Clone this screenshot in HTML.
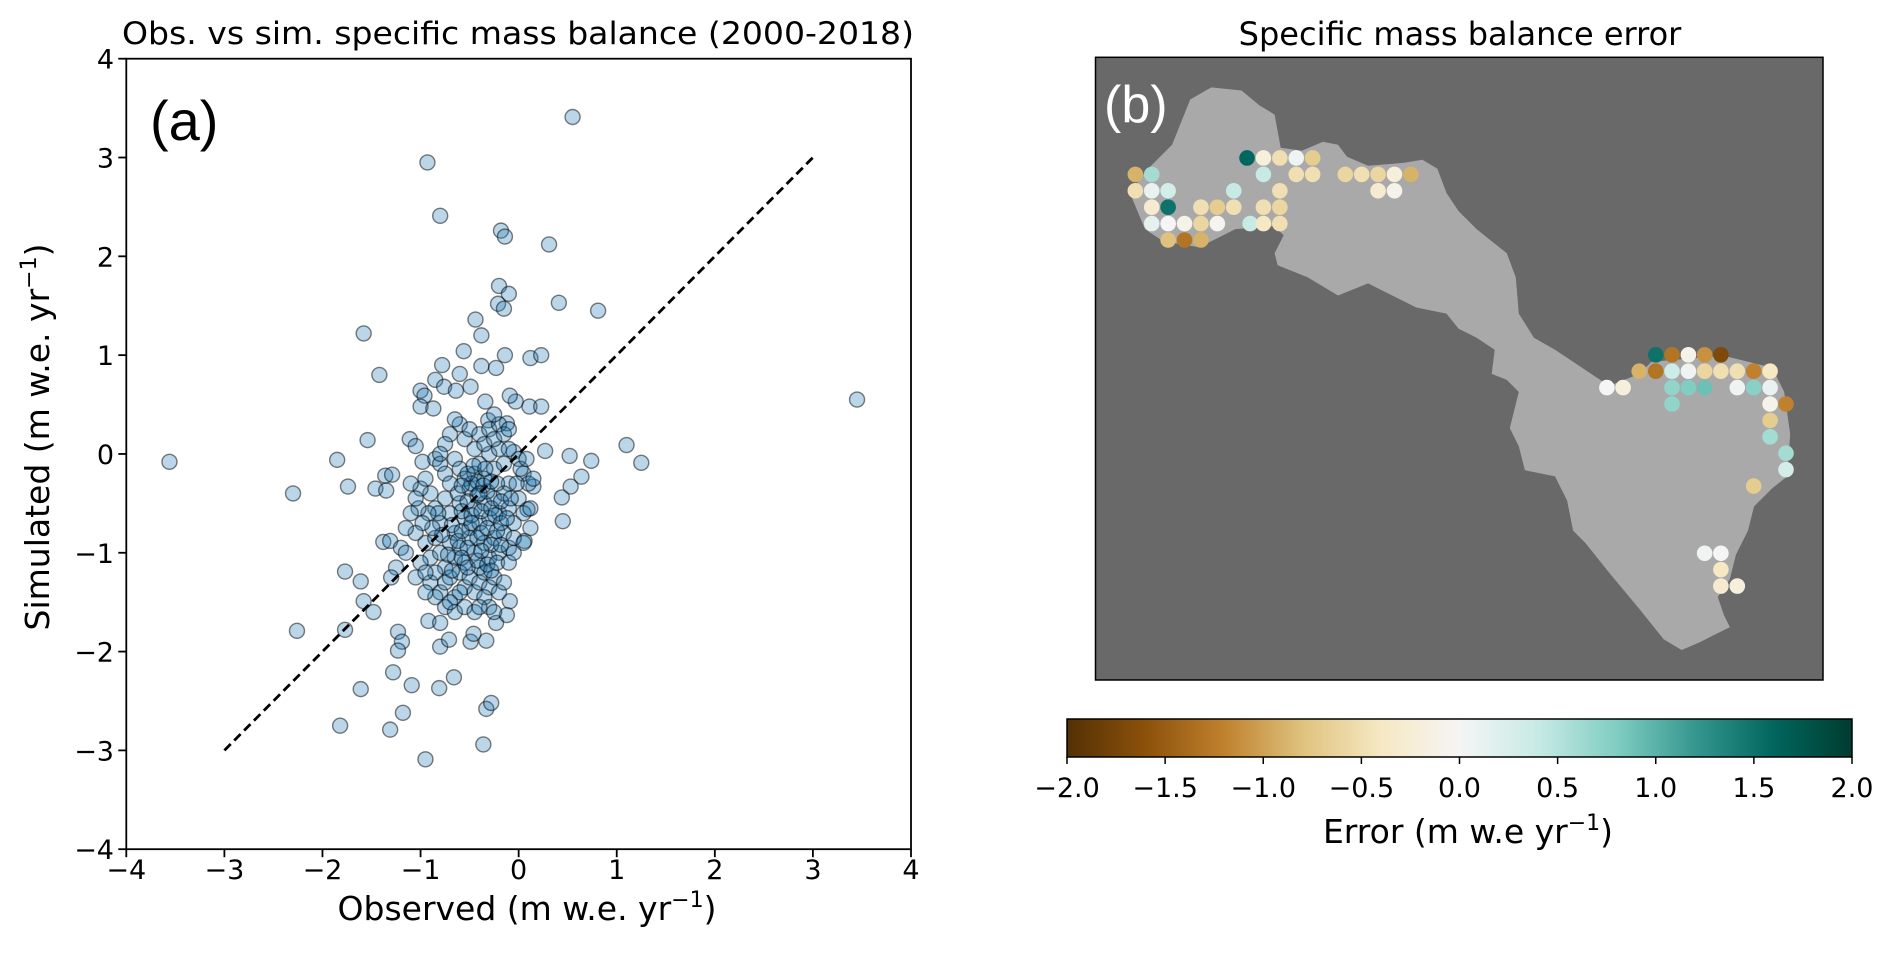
<!DOCTYPE html>
<html><head><meta charset="utf-8"><style>
html,body{margin:0;padding:0;background:#fff;}
svg{display:block;font-family:"DejaVu Sans","Liberation Sans",sans-serif;}
</style></head><body>
<svg id="fig" width="1892" height="962" viewBox="0 0 1892 962" xmlns="http://www.w3.org/2000/svg">
<defs>
<linearGradient id="brbg" x1="0" x2="1" y1="0" y2="0">
<stop offset="0" stop-color="#543005"/><stop offset="0.1" stop-color="#8c510a"/><stop offset="0.2" stop-color="#bf812d"/><stop offset="0.3" stop-color="#dfc27d"/><stop offset="0.4" stop-color="#f6e8c3"/><stop offset="0.5" stop-color="#f5f5f5"/><stop offset="0.6" stop-color="#c7eae5"/><stop offset="0.7" stop-color="#80cdc1"/><stop offset="0.8" stop-color="#35978f"/><stop offset="0.9" stop-color="#01665e"/><stop offset="1" stop-color="#003c30"/>
</linearGradient>
</defs>
<g id="scatter"></g>
<g id="mapg"></g>
</svg>
<script>
// ---- scatter data ----
const obsOut = [0.55,-0.93,-0.8,-0.18,-0.14,0.31,-0.2,-0.1,-0.21,-0.15,0.41,0.81,-0.44,-0.38,-1.58,-1.42,-0.56,-0.14,0.12,0.23,-0.38,-0.23,3.45,-3.56,-2.3,-1.85,-1.74,-1.54,1.1,1.25,0.52,0.74,0.64,0.53,0.44,0.45,-2.26,-1.77,-1.61,-1.58,-1.77,-1.48,-1.61,-1.82,-1.31,-1.18,-1.09,-1.28,-0.95,-0.36,-0.33,-0.28,-0.66,-0.81,-1.23,-1.19,-1.23,-0.92,-0.8,-0.71,-0.8,-0.33,-0.49,-0.46,-0.23,-0.12,-0.09,-1.38,-1.31,-1.46,-1.36,-1.29,-1.35,-1.11,-1.05,-0.98,-1.0,-0.96,-1.0,-0.87,-0.78,-0.85,-0.76,-0.6,-0.64,-0.49,-0.34,-0.31,-0.12,-0.03,-0.09,0.11,0.23,0.27,0.09,0.06,0.15,0.12];
const simOut = [3.41,2.95,2.41,2.26,2.2,2.12,1.7,1.62,1.52,1.47,1.53,1.45,1.36,1.2,1.22,0.8,1.04,1.0,0.97,1.0,0.89,0.87,0.55,-0.08,-0.4,-0.06,-0.33,0.14,0.09,-0.09,-0.02,-0.07,-0.23,-0.33,-0.44,-0.68,-1.79,-1.19,-1.29,-1.49,-1.78,-1.6,-2.38,-2.75,-2.79,-2.62,-2.34,-2.21,-3.09,-2.94,-2.58,-2.52,-2.26,-2.37,-1.8,-1.9,-1.99,-1.69,-1.95,-1.88,-1.71,-1.89,-1.9,-1.82,-1.71,-1.63,-1.49,-0.89,-0.88,-0.35,-0.22,-0.21,-0.37,0.15,0.08,-0.08,0.64,0.59,0.48,0.46,0.9,0.75,0.68,0.81,0.64,0.68,0.53,0.34,0.31,0.53,0.59,0.48,0.48,0.03,-0.56,-0.88,-0.33,-0.75];
const obsCore = [-0.85,-0.8,-0.75,-0.7,-0.65,-0.6,-0.55,-0.5,-0.45,-0.4,-0.35,-0.3,-0.25,-0.2,-0.15,-0.1,-0.05,0.0,0.05,0.1,
-0.9,-0.85,-0.8,-0.75,-0.7,-0.65,-0.6,-0.55,-0.5,-0.45,-0.4,-0.35,-0.3,-0.25,-0.2,-0.15,-0.1,-0.05,0.0,0.05,
-0.95,-0.9,-0.85,-0.8,-0.75,-0.7,-0.65,-0.6,-0.55,-0.5,-0.45,-0.4,-0.35,-0.3,-0.25,-0.2,-0.15,-0.1,-0.05,0.05,
-0.9,-0.85,-0.8,-0.75,-0.7,-0.65,-0.6,-0.55,-0.5,-0.45,-0.4,-0.35,-0.3,-0.25,-0.2,-0.15,-0.75,-0.65,-0.55,-0.45,
-0.6,-0.55,-0.5,-0.45,-0.4,-0.35,-0.3,-0.25,-0.2,-0.7,-0.75,-0.8,-0.65,-0.15,-0.1,
-0.62,-0.58,-0.52,-0.48,-0.42,-0.38,-0.32,-0.28,-0.22,-0.18,-0.68,-0.62,-0.58,-0.52,-0.48,-0.42,-0.38,-0.32,-0.28,-0.22,
-0.72,-0.68,-0.58,-0.52,-0.42,-0.38,-0.32,-0.28,-0.22,-0.18,-0.78,-0.82,-0.88,-0.92,-0.98,-1.02,-1.05,-1.0,-1.05,-0.95,
-0.48,-0.42,-0.36,-0.52,-0.58,-0.46,-0.4,-0.34,-0.28,-0.24,-0.18,-0.12,-0.08,-0.02,0.02,0.08,0.12,0.15,-0.1,-0.05,
-0.35,-0.3,-0.25,-0.4,-0.6,-0.7,-0.85,-0.95,-1.0,-1.05,-0.95,-1.1,-1.15,-1.2,-1.25,-1.3,-1.15,-1.1,-0.25,-0.1];
const simCore = [-0.05,-0.1,-0.2,-0.3,-0.05,-0.15,-0.25,-0.35,-0.2,-0.1,-0.25,0.0,-0.15,0.05,-0.1,-0.3,0.02,-0.05,-0.2,-0.3,
-0.4,-0.55,-0.7,-0.45,-0.6,-0.8,-0.5,-0.65,-0.75,-0.55,-0.7,-0.5,-0.65,-0.45,-0.6,-0.4,-0.55,-0.7,-0.45,-0.6,
-0.9,-1.05,-0.85,-1.0,-1.15,-0.9,-1.05,-0.95,-1.1,-0.85,-1.0,-1.15,-0.9,-1.05,-0.85,-1.0,-0.8,-0.95,-0.85,-0.9,
-1.3,-1.2,-1.4,-1.3,-1.25,-1.45,-1.2,-1.35,-1.25,-1.4,-1.3,-1.2,-1.35,-1.25,-1.4,-1.3,-1.55,-1.6,-1.55,-1.6,
0.3,0.15,0.25,0.05,0.2,0.1,0.25,0.15,0.3,0.2,0.1,0.0,0.35,0.2,0.05,
-0.4,-0.58,-0.48,-0.62,-0.42,-0.58,-0.38,-0.55,-0.3,-0.48,-0.72,-0.88,-0.78,-0.95,-0.7,-0.85,-0.8,-0.75,-0.92,-0.78,
-1.02,-1.18,-1.05,-1.15,-1.08,-0.98,-1.12,-1.18,-1.1,-0.92,-0.82,-0.6,-0.75,-0.6,-0.7,-0.55,-0.8,-1.1,-1.25,-1.2,
-0.3,-0.28,-0.32,-0.2,-0.32,-0.12,-0.4,-0.15,-0.28,-0.62,-0.7,-0.65,-0.45,-0.3,-0.15,-0.05,-0.55,-0.25,-1.1,-1.0,
-1.45,-1.55,-1.6,-1.55,-1.4,-1.5,-1.45,-1.4,-0.35,-0.45,-0.25,-0.6,-0.75,-0.95,-1.15,-1.25,-1.0,-0.3,0.4,0.25];
const axTicks = [-4,-3,-2,-1,0,1,2,3,4];
const oneToOne = [-3,3];

// ---- map data (grid coords) ----
const dotCol = [6.81,7.81,8.81,9.81,10.81, 0,1,7.81,9.81,10.81,12.8,13.8,14.8,15.8,16.8, 0,1,2,6,8.81,14.8,15.8,
 1,2,4,5,6,7.81,8.81, 1,2,3,4,5,7,7.81,8.81, 2,3,4,
 31.73,32.72,33.72,34.71,35.7, 30.72,31.73,32.72,33.72,34.71,35.7,36.7,37.7,38.7, 28.75,29.74,32.72,33.72,34.71,36.7,37.7,38.7,
 32.72,38.7,39.67, 38.7, 38.7, 39.67, 39.67, 37.7, 34.71,35.7, 35.7, 35.7,36.7];
const dotRow = [0,0,0,0,0, 1,1,1,1,1,1,1,1,1,1, 2,2,2,2,2,2,2,
 3,3,3,3,3,3,3, 4,4,4,4,4,4,4,4, 5,5,5,
 12,12,12,12,12, 13,13,13,13,13,13,13,13,13, 14,14,14,14,14,14,14,14,
 15,15,15, 16, 17, 18, 19, 20, 24.1,24.1, 25.1, 26.1,26.1];
const dotErr = [1.6,-0.2,-0.5,0.05,-0.7, -0.9,0.6,0.4,-0.5,-0.5,-0.6,-0.5,-0.6,-0.2,-0.9, -0.5,0.1,0.3,0.4,-0.5,-0.3,-0.1,
 -0.3,1.5,-0.5,-0.7,-0.5,-0.5,-0.6, 0.15,0,-0.1,-0.6,-0.05,0.4,-0.4,-0.5, -0.8,-1.3,-0.9,
 1.5,-1.3,-0.1,-1.1,-1.7, -0.9,-1.3,0.35,0.05,-0.6,-0.5,-0.5,-1.2,-0.4, 0,-0.2,0.7,0.8,0.9,0.05,0.75,0.1,
 0.7,-0.1,-1.2, -0.7, 0.6, 0.6, 0.3, -0.7, 0.05,0, -0.4, -0.3,-0.2];
const cbTicks = [-2,-1.5,-1,-0.5,0,0.5,1,1.5,2];
const cbLabels = ["\u22122.0","\u22121.5","\u22121.0","\u22120.5","0.0","0.5","1.0","1.5","2.0"];

const NS="http://www.w3.org/2000/svg";
function mk(tag, attrs, parent, txt){const e=document.createElementNS(NS,tag);for(const k in attrs)e.setAttribute(k,attrs[k]);if(txt!==undefined)e.textContent=txt;parent.appendChild(e);return e;}
const fmt=v=>v<0?"\u2212"+Math.abs(v):String(v);

// scatter axes
const L=126.3,R=911,T=58.7,B=849.2;
const xS=v=>L+(v+4)/8*(R-L);
const yS=v=>B-(v+4)/8*(B-T);
const sc=document.getElementById('scatter');
let t=mk('text',{x:518,y:44,'text-anchor':'middle','font-size':31,fill:'#000',textLength:792,lengthAdjust:'spacingAndGlyphs'},sc,'Obs. vs sim. specific mass balance (2000-2018)');

const pts=mk('g',{},sc);

function dot(x,y){const c=mk('circle',{cx:xS(x),cy:yS(y),r:7.5,fill:'rgba(31,119,180,0.3)',stroke:'rgba(0,0,0,0.5)','stroke-width':1.4},pts);
}
obsOut.forEach((x,i)=>dot(x,simOut[i]));
obsCore.forEach((x,i)=>dot(x,simCore[i]));
const ln=mk('line',{x1:xS(oneToOne[0]),y1:yS(oneToOne[0]),x2:xS(oneToOne[1]),y2:yS(oneToOne[1]),stroke:'#000','stroke-width':2.8,'stroke-dasharray':'9,5'},sc);

const fr=mk('rect',{x:L,y:T,width:R-L,height:B-T,fill:'none',stroke:'#000','stroke-width':1.8},sc);

axTicks.forEach(v=>{
 let a=mk('line',{x1:xS(v),x2:xS(v),y1:B,y2:B+8,stroke:'#000','stroke-width':1.8},sc);
 
 let b=mk('text',{x:xS(v),y:879,'text-anchor':'middle','font-size':27},sc,fmt(v));
 
 let c=mk('line',{x1:L-8,x2:L,y1:yS(v),y2:yS(v),stroke:'#000','stroke-width':1.8},sc);
 
 let d=mk('text',{x:114,y:yS(v)+10,'text-anchor':'end','font-size':27},sc,fmt(v));
 
});
t=mk('text',{x:527,y:920,'text-anchor':'middle','font-size':33},sc);

t.innerHTML='Observed (m w.e. yr<tspan dy="-13" font-size="22">\u22121</tspan><tspan dy="13">)</tspan>';
t=mk('text',{x:0,y:0,'text-anchor':'middle','font-size':33,transform:'translate(49,437) rotate(-90)'},sc);

t.innerHTML='Simulated (m w.e. yr<tspan dy="-13" font-size="22">\u22121</tspan><tspan dy="13">)</tspan>';
t=mk('text',{x:150,y:140,'font-size':56,'font-family':'Liberation Sans, sans-serif'},sc,'(a)');


// map
const mg=document.getElementById('mapg');
const zx=v=>946+v*0.603, zy=v=>v*0.603;
t=mk('text',{x:1460,y:45,'text-anchor':'middle','font-size':32},mg,'Specific mass balance error');

const bg=mk('rect',{x:1095.5,y:57.3,width:727.5,height:622.7,fill:'#696969',stroke:'#000','stroke-width':1.5},mg);

const shapeZ=[[330,285],[375,240],[405,165],[440,145],[490,150],[520,175],[545,190],[555,245],[590,250],[625,235],[650,240],[665,260],[700,275],[760,270],[790,265],[815,280],[830,320],[850,350],[880,380],[905,400],[930,420],[945,460],[950,520],[975,560],[1010,580],[1040,600],[1070,620],[1100,640],[1150,620],[1170,600],[1290,590],[1370,610],[1390,650],[1400,720],[1395,790],[1370,810],[1340,840],[1330,880],[1310,920],[1300,960],[1280,990],[1290,1020],[1300,1040],[1280,1050],[1250,1065],[1220,1078],[1190,1060],[1150,1010],[1100,950],[1060,900],[1040,880],[1030,830],[1010,790],[960,780],[950,740],[935,710],[950,650],[930,630],[905,620],[910,580],[880,560],[850,545],[830,520],[780,510],[740,490],[700,470],[650,490],[600,460],[550,440],[545,420],[560,390],[545,375],[480,380],[420,410],[360,400],[330,380],[305,320]];
const poly=mk('polygon',{points:shapeZ.map(p=>zx(p[0]).toFixed(1)+','+zy(p[1]).toFixed(1)).join(' '),fill:'#a9a9a9'},mg);

const stops=[[84,48,5],[140,81,10],[191,129,45],[223,194,125],[246,232,195],[245,245,245],[199,234,229],[128,205,193],[53,151,143],[1,102,94],[0,60,48]];
function cmap(v){let f=Math.max(0,Math.min(1,(v+2)/4))*10;let i=Math.min(9,Math.floor(f));let r=f-i;const a=stops[i],b=stops[i+1];return 'rgb('+a.map((c,k)=>Math.round(c+(b[k]-c)*r)).join(',')+')';}
const gx=c=>zx(314+27.2*c), gy=r=>zy(262+27.2*r);
dotErr.forEach((e,i)=>{const c=mk('circle',{cx:gx(dotCol[i]),cy:gy(dotRow[i]),r:7.8,fill:cmap(e)},mg);
});
t=mk('text',{x:1104,y:122,'font-size':52,fill:'#fff','font-family':'Liberation Sans, sans-serif'},mg,'(b)');

// colorbar
const cL=1067,cR=1852,cT=719,cB=757;
const cs=v=>cL+(v+2)/4*(cR-cL);
const cb=mk('rect',{x:cL,y:cT,width:cR-cL,height:cB-cT,fill:'url(#brbg)',stroke:'#000','stroke-width':1.5},mg);

cbTicks.forEach((v,i)=>{
 let a=mk('line',{x1:cs(v),x2:cs(v),y1:cB,y2:cB+7,stroke:'#000','stroke-width':1.5},mg);
 
 let b=mk('text',{x:cs(v),y:797,'text-anchor':'middle','font-size':27},mg,cbLabels[i]);
 
});
t=mk('text',{x:1468,y:843,'text-anchor':'middle','font-size':33},mg);

t.innerHTML='Error (m w.e yr<tspan dy="-13" font-size="22">\u22121</tspan><tspan dy="13">)</tspan>';
</script>
</body></html>
